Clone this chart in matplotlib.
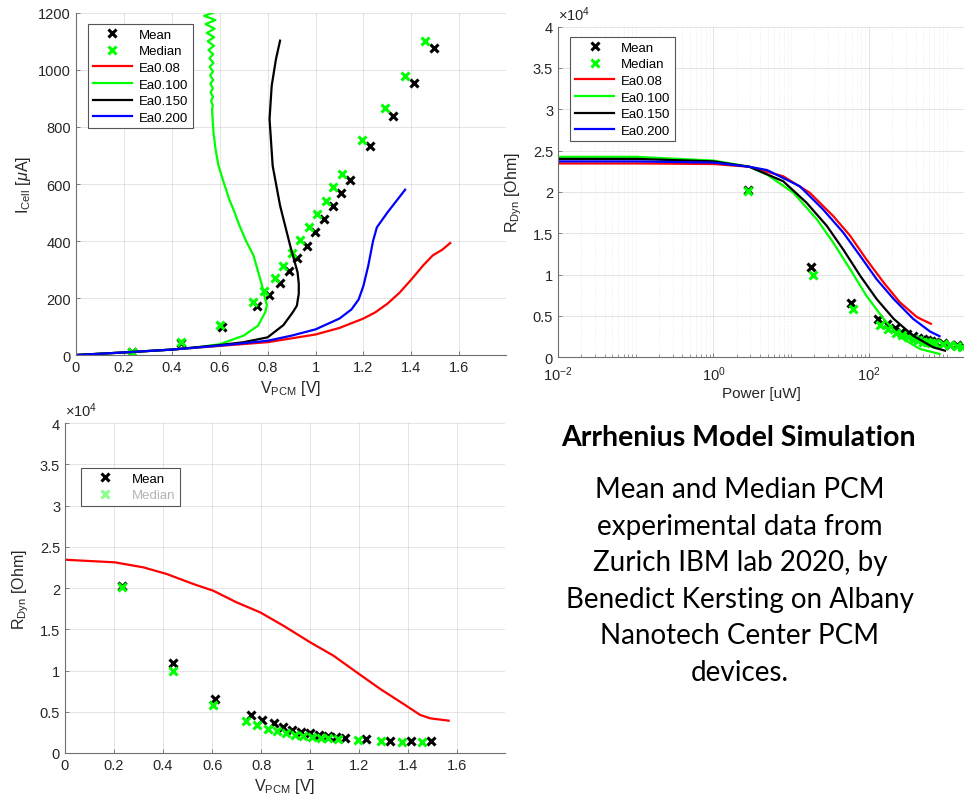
import numpy as np
import matplotlib
matplotlib.use("Agg")
import matplotlib.pyplot as plt
from matplotlib.ticker import FuncFormatter, FixedLocator, LogLocator, NullFormatter

plt.rcParams['font.family'] = ['Liberation Sans', 'DejaVu Sans']
plt.rcParams['mathtext.fontset'] = 'custom'
plt.rcParams['mathtext.rm'] = 'Liberation Sans'
plt.rcParams['mathtext.it'] = 'Liberation Sans:italic'

# measured PCM data (mean / median over devices)
v_mean = [0.233, 0.44, 0.61, 0.757, 0.805, 0.853, 0.891, 0.924, 0.964, 0.999,
          1.036, 1.072, 1.107, 1.143, 1.229, 1.324, 1.413, 1.494]
i_mean = [12, 41, 97, 173, 210, 253, 294, 340, 384, 430,
          477, 524, 567, 615, 732, 840, 953, 1076]
r_mean = [20200, 10920, 6550, 4610, 4040, 3600, 3110, 2790, 2590, 2390,
          2220, 2060, 1980, 1860, 1700, 1500, 1460, 1420]

v_med = [0.234, 0.44, 0.603, 0.740, 0.784, 0.830, 0.864, 0.900, 0.937, 0.972,
         1.008, 1.044, 1.074, 1.112, 1.195, 1.291, 1.375, 1.458]
i_med = [12, 44, 105, 187, 226, 269, 313, 358, 405, 448,
         495, 542, 588, 636, 756, 866, 980, 1100]
r_med = [20140, 9990, 5820, 3920, 3400, 2950, 2670, 2470, 2220, 2060,
         1900, 1860, 1780, 1700, 1580, 1460, 1380, 1290]

# simulated I-V curves for each activation energy
iv_v_008 = [0, 0.2, 0.4, 0.6, 0.8, 1.0, 1.1, 1.2, 1.25, 1.3, 1.35, 1.4, 1.45, 1.49, 1.53, 1.562]
iv_i_008 = [0, 9, 19, 32, 45, 72, 95, 128, 150, 180, 218, 265, 315, 350, 370, 393]

iv_v_100 = [0, 0.2, 0.4, 0.5, 0.6, 0.7, 0.76, 0.79, 0.797, 0.79, 0.773, 0.741, 0.71,
            0.682, 0.66, 0.64, 0.615, 0.595, 0.583, 0.574, 0.568,
            0.571, 0.564, 0.572, 0.562, 0.571, 0.561, 0.573, 0.560, 0.572, 0.558,
            0.574, 0.557, 0.573, 0.553, 0.576, 0.550, 0.577, 0.546, 0.579, 0.541,
            0.582, 0.535, 0.586]
iv_i_100 = [0, 9, 19, 26, 38, 68, 103, 150, 175, 196, 255, 349, 400,
            455, 505, 546, 610, 664, 720, 781, 860,
            875, 892, 905, 921, 935, 952, 965, 981, 995, 1011,
            1025, 1041, 1055, 1070, 1085, 1101, 1115, 1130, 1145, 1161,
            1175, 1190, 1205]

iv_v_150 = [0, 0.2, 0.4, 0.6, 0.7, 0.8, 0.866, 0.905, 0.922, 0.930, 0.930, 0.925,
            0.894, 0.852, 0.821, 0.808, 0.817, 0.835, 0.852]
iv_i_150 = [0, 9, 19, 35, 45, 62, 105, 150, 173, 215, 250, 290,
            384, 524, 664, 828, 945, 1039, 1103]

iv_v_200 = [0, 0.2, 0.4, 0.6, 0.8, 0.9, 1.0, 1.1, 1.15, 1.18, 1.2, 1.22, 1.24, 1.256, 1.3, 1.374]
iv_i_200 = [0, 9, 19, 33, 50, 68, 90, 128, 160, 195, 243, 313, 400, 448, 500, 580]

# simulated dynamic resistance vs power
rp_p_008 = [0.01, 0.1, 1, 2.9, 7.9, 17.4, 34.7, 57.5, 93, 155, 251, 417, 630]
rp_r_008 = [23450, 23450, 23380, 23050, 21900, 19900, 17100, 14700, 11850, 9050, 6650, 4850, 4050]

rp_p_100 = [0.01, 0.1, 1, 2.9, 4.9, 10.7, 21.4, 34.7, 57.5, 93, 155, 251, 457, 813]
rp_r_100 = [24250, 24250, 23800, 23050, 22100, 19900, 16700, 13900, 10650, 7450, 4650, 2450, 1000, 400]

rp_p_150 = [0.01, 0.1, 1, 2.9, 7.9, 15.8, 28.8, 46.8, 77.6, 126, 209, 372, 676, 955]
rp_r_150 = [24000, 24000, 23700, 23050, 21300, 18700, 15900, 13050, 9850, 7050, 4650, 2600, 1200, 800]

rp_p_200 = [0.01, 0.1, 1, 2.9, 4.9, 12.9, 25.7, 46.8, 77.6, 126, 209, 372, 617, 813]
rp_r_200 = [23700, 23700, 23550, 23050, 22650, 20700, 17900, 15100, 12250, 9450, 7050, 4650, 3100, 2550]

# simulated dynamic resistance vs voltage (Ea 0.08)
rv_v_008 = [0, 0.204, 0.32, 0.415, 0.524, 0.605, 0.70, 0.796, 0.891, 1.0,
            1.095, 1.19, 1.286, 1.381, 1.449, 1.49, 1.565]
rv_r_008 = [23430, 23110, 22500, 21700, 20480, 19670, 18260, 17050, 15430, 13420,
            11800, 9780, 7760, 5940, 4610, 4200, 3920]

ea_labels = ['Ea0.08', 'Ea0.100', 'Ea0.150', 'Ea0.200']
ea_colors = ['#ff0000', '#00ff00', '#000000', '#0000ff']

text_title = 'Arrhenius Model Simulation'
text_body = ['Mean and Median PCM', 'experimental data from',
             'Zurich IBM lab 2020, by', 'Benedict Kersting on Albany',
             'Nanotech Center PCM', 'devices.']

p_mean = np.array(v_mean) * np.array(i_mean)
p_med = np.array(v_med) * np.array(i_med)

AX_COL = '#262626'


def matlab_style(ax):
    ax.spines['top'].set_visible(False)
    ax.spines['right'].set_visible(False)
    for s in ('left', 'bottom'):
        ax.spines[s].set_color('#6e6e6e')
        ax.spines[s].set_linewidth(0.8)
    ax.tick_params(direction='in', length=3, width=0.6, colors='#6e6e6e',
                   labelcolor=AX_COL, labelsize=10.5)
    ax.grid(True, which='major', color=AX_COL, alpha=0.12, lw=0.7)
    ax.set_axisbelow(True)


def legend_box(ax, anchor, **kw):
    leg = ax.legend(loc='upper left', bbox_to_anchor=anchor, fontsize=9.5,
                    frameon=True, fancybox=False, framealpha=1,
                    edgecolor='#555555', handlelength=3.0, handletextpad=0.5,
                    labelspacing=0.33, borderpad=0.35, borderaxespad=0, **kw)
    leg.get_frame().set_linewidth(0.8)
    return leg


mk = dict(ls='none', marker='x', ms=6, mew=2.2)
fmt_g = FuncFormatter(lambda v, p: '%g' % v)
fmt_e4 = FuncFormatter(lambda v, p: '%g' % (v / 1e4))

fig = plt.figure(figsize=(9.64, 8.04), dpi=100)

# ---- I-V ----
ax1 = fig.add_axes([0.0788, 0.5572, 0.4461, 0.4254])
matlab_style(ax1)
ax1.plot(v_mean, i_mean, color='k', label='Mean', **mk)
ax1.plot(v_med, i_med, color='#00ff00', label='Median', **mk)
for vv, ii, lab, col in zip([iv_v_008, iv_v_100, iv_v_150, iv_v_200],
                            [iv_i_008, iv_i_100, iv_i_150, iv_i_200],
                            ea_labels, ea_colors):
    ax1.plot(vv, ii, color=col, lw=1.6, label=lab)
ax1.set_xlim(0, 1.795)
ax1.set_ylim(0, 1200)
ax1.xaxis.set_major_locator(FixedLocator(np.arange(0, 1.61, 0.2)))
ax1.xaxis.set_major_formatter(fmt_g)
ax1.yaxis.set_major_locator(FixedLocator(np.arange(0, 1201, 200)))
ax1.set_xlabel(r'V$_{\mathrm{PCM}}$ [V]', fontsize=11.5, color=AX_COL, labelpad=3)
ax1.set_ylabel(r'I$_{\mathrm{Cell}}$ [$\mu$A]', fontsize=11.5, color=AX_COL, labelpad=4)
legend_box(ax1, (0.028, 0.968))

# ---- R vs power ----
ax2 = fig.add_axes([0.5788, 0.5544, 0.4212, 0.4112])
matlab_style(ax2)
ax2.set_xscale('log')
ax2.plot(p_mean, r_mean, color='k', label='Mean', **mk)
ax2.plot(p_med, r_med, color='#00ff00', label='Median', **mk)
for pp, rr, lab, col in zip([rp_p_008, rp_p_100, rp_p_150, rp_p_200],
                            [rp_r_008, rp_r_100, rp_r_150, rp_r_200],
                            ea_labels, ea_colors):
    ax2.plot(pp, rr, color=col, lw=1.6, label=lab)
ax2.set_xlim(1e-2, 10 ** 3.225)
ax2.set_ylim(0, 40000)
ax2.xaxis.set_major_locator(FixedLocator([1e-2, 1e0, 1e2]))
ax2.xaxis.set_minor_locator(LogLocator(base=10, subs=np.arange(1, 10), numticks=30))
ax2.xaxis.set_minor_formatter(NullFormatter())
ax2.tick_params(which='minor', direction='in', length=2, width=0.5, colors='#6e6e6e')
ax2.tick_params(axis='x', which='major', pad=5)
ax2.grid(True, which='minor', axis='x', color=AX_COL, alpha=0.1, lw=0.6, ls=':')
ax2.yaxis.set_major_locator(FixedLocator(np.arange(0, 40001, 5000)))
ax2.yaxis.set_major_formatter(fmt_e4)
ax2.set_xlabel('Power [uW]', fontsize=11, color=AX_COL, labelpad=2)
ax2.set_ylabel(r'R$_{\mathrm{Dyn}}$ [Ohm]', fontsize=11.5, color=AX_COL, labelpad=6)
ax2.text(0, 1.012, r'$\times$10$^{4}$', transform=ax2.transAxes, fontsize=10.5,
         color=AX_COL, ha='left', va='bottom')
legend_box(ax2, (0.03, 0.969))

# ---- R vs voltage ----
ax3 = fig.add_axes([0.0674, 0.0622, 0.4565, 0.4104])
matlab_style(ax3)
ax3.plot(v_mean, r_mean, color='k', label='Mean', **mk)
ax3.plot(v_med, r_med, color='#00ff00', label='Median', **mk)
ax3.plot(rv_v_008, rv_r_008, color='#ff0000', lw=1.6)
ax3.set_xlim(0, 1.795)
ax3.set_ylim(0, 40000)
ax3.xaxis.set_major_locator(FixedLocator(np.arange(0, 1.61, 0.2)))
ax3.xaxis.set_major_formatter(fmt_g)
ax3.yaxis.set_major_locator(FixedLocator(np.arange(0, 40001, 5000)))
ax3.yaxis.set_major_formatter(fmt_e4)
ax3.set_xlabel(r'V$_{\mathrm{PCM}}$ [V]', fontsize=11.5, color=AX_COL, labelpad=3)
ax3.set_ylabel(r'R$_{\mathrm{Dyn}}$ [Ohm]', fontsize=11.5, color=AX_COL, labelpad=6)
ax3.text(0, 1.012, r'$\times$10$^{4}$', transform=ax3.transAxes, fontsize=10.5,
         color=AX_COL, ha='left', va='bottom')
leg3 = legend_box(ax3, (0.036, 0.864))
leg3.get_texts()[1].set_color('#b4b4b4')
leg3.legend_handles[1].set_alpha(0.45)

# ---- description panel ----
fig.text(0.7656, 1 - 438 / 804, text_title, family=['Lato', 'DejaVu Sans'],
         fontsize=20.5, fontweight='bold', ha='center', va='center')
for k, line in enumerate(text_body):
    fig.text(0.7676, 1 - (490 + 36.6 * k) / 804, line, family=['Lato', 'DejaVu Sans'],
             fontsize=20, ha='center', va='center')

fig.savefig('out.png', dpi=100)
